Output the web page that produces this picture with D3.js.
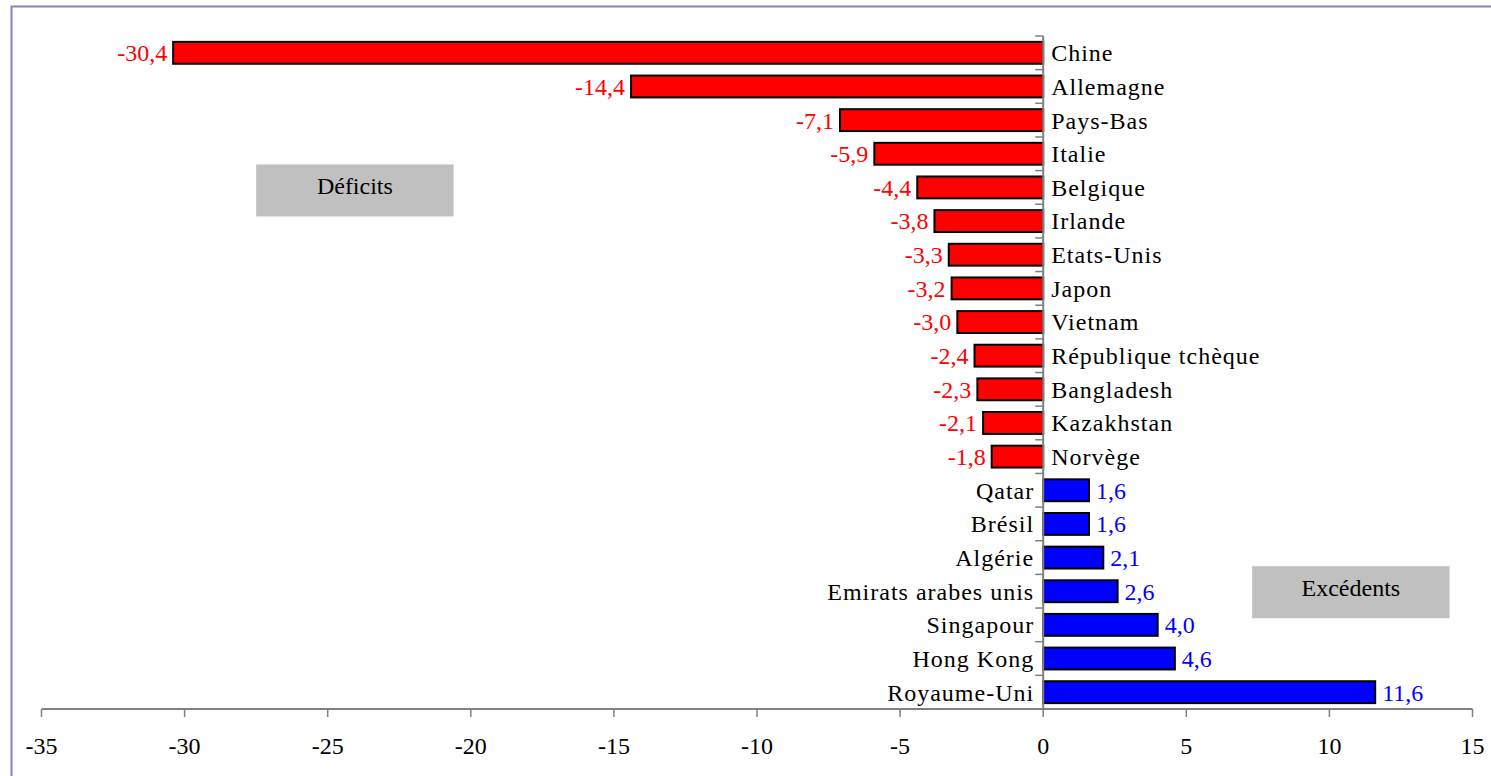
<!DOCTYPE html>
<html>
<head>
  <meta charset="utf-8">
  <script src="https://cdn.jsdelivr.net/npm/d3@7/dist/d3.min.js"></script>
  <style>
    body { margin: 0; background: #fff; }
  </style>
</head>
<body>
<div id="viz"></div>
<script>
// pays, du plus gros déficit au plus gros excédent
var countries = ["Chine", "Allemagne", "Pays-Bas", "Italie", "Belgique", "Irlande",
  "Etats-Unis", "Japon", "Vietnam", "République tchèque", "Bangladesh", "Kazakhstan",
  "Norvège", "Qatar", "Brésil", "Algérie", "Emirats arabes unis", "Singapour",
  "Hong Kong", "Royaume-Uni"];
var values = [-30.4, -14.4, -7.1, -5.9, -4.4, -3.8, -3.3, -3.2, -3.0, -2.4, -2.3, -2.1,
  -1.8, 1.6, 1.6, 2.1, 2.6, 4.0, 4.6, 11.6];
var xTicks = [-35, -30, -25, -20, -15, -10, -5, 0, 5, 10, 15];
var boxLabels = ["Déficits", "Excédents"];

var W = 1491, H = 776;
var fs = 24;
var serif = "'Liberation Serif', 'DejaVu Serif', serif";

var svg = d3.select("#viz").append("svg")
  .attr("width", W)
  .attr("height", H)
  .attr("font-family", serif);

// cadre
svg.append("rect")
  .attr("x", 11.5).attr("y", 6.5)
  .attr("width", W + 20).attr("height", H + 20)
  .attr("fill", "none")
  .attr("stroke", "#8484bc")
  .attr("stroke-width", 2);

var x = d3.scaleLinear().domain([-35, 15]).range([41.5, 1472.5]);
var y = d3.scaleBand().domain(countries).range([36, 709])
  .paddingInner(0.35).paddingOuter(0.175);
var step = y.step();
var data = countries.map(function(c, i) { return { name: c, v: values[i] }; });
var fmt = function(v) { return d3.format(".1f")(v).replace("−", "-").replace(".", ","); };

// axe horizontal
svg.append("line")
  .attr("x1", x(-35)).attr("x2", x(15))
  .attr("y1", 709).attr("y2", 709)
  .attr("stroke", "#808080").attr("stroke-width", 2);
svg.selectAll(".xtick").data(xTicks).enter().append("line")
  .attr("x1", function(d) { return x(d); }).attr("x2", function(d) { return x(d); })
  .attr("y1", 709).attr("y2", 717)
  .attr("stroke", "#808080").attr("stroke-width", 1.5);
svg.selectAll(".xlab").data(xTicks).enter().append("text")
  .attr("x", function(d) { return x(d); })
  .attr("y", 754)
  .attr("text-anchor", "middle")
  .attr("font-family", serif)
  .attr("font-size", fs)
  .text(function(d) { return String(d); });

// barres
svg.selectAll(".bar").data(data).enter().append("rect")
  .attr("x", function(d) { return x(Math.min(0, d.v)); })
  .attr("y", function(d) { return y(d.name); })
  .attr("width", function(d) { return Math.abs(x(d.v) - x(0)); })
  .attr("height", y.bandwidth())
  .attr("fill", function(d) { return d.v < 0 ? "#ff0000" : "#0000ff"; })
  .attr("stroke", "#000")
  .attr("stroke-width", 2);

// axe vertical
svg.append("line")
  .attr("x1", x(0)).attr("x2", x(0))
  .attr("y1", 36).attr("y2", 709)
  .attr("stroke", "#808080").attr("stroke-width", 2);
svg.selectAll(".ytick").data(d3.range(countries.length + 1)).enter().append("line")
  .attr("x1", x(0) - 8).attr("x2", x(0))
  .attr("y1", function(i) { return 36 + i * step; })
  .attr("y2", function(i) { return 36 + i * step; })
  .attr("stroke", "#808080").attr("stroke-width", 1.5);

// noms des pays
svg.selectAll(".name").data(data).enter().append("text")
  .attr("x", function(d) { return d.v < 0 ? x(0) + 8 : x(0) - 9; })
  .attr("y", function(d) { return y(d.name) + y.bandwidth() / 2; })
  .attr("dy", "0.35em")
  .attr("text-anchor", function(d) { return d.v < 0 ? "start" : "end"; })
  .attr("font-family", serif)
  .attr("font-size", fs)
  .attr("letter-spacing", 1)
  .attr("fill", "#000")
  .text(function(d) { return d.name; });

// valeurs
svg.selectAll(".val").data(data).enter().append("text")
  .attr("x", function(d) { return d.v < 0 ? x(d.v) - 6 : x(d.v) + 7; })
  .attr("y", function(d) { return y(d.name) + y.bandwidth() / 2; })
  .attr("dy", "0.35em")
  .attr("text-anchor", function(d) { return d.v < 0 ? "end" : "start"; })
  .attr("font-family", serif)
  .attr("font-size", fs)
  .attr("fill", function(d) { return d.v < 0 ? "#ff0000" : "#0000ff"; })
  .text(function(d) { return fmt(d.v); });

// encadrés
var boxes = [
  { label: boxLabels[0], x0: -27.5, x1: -20.6, row: 4, dy: 3, ty: -1 },
  { label: boxLabels[1], x0: 7.3, x1: 14.2, row: 16, dy: 1, ty: -1 }
];
var bh = 52;
boxes.forEach(function(b) {
  var cy = y(countries[b.row]) + y.bandwidth() / 2 + b.dy;
  var g = svg.append("g");
  g.append("rect")
    .attr("x", x(b.x0)).attr("y", cy - bh / 2)
    .attr("width", x(b.x1) - x(b.x0)).attr("height", bh)
    .attr("fill", "#c0c0c0");
  g.append("text")
    .attr("x", (x(b.x0) + x(b.x1)) / 2)
    .attr("y", cy + b.ty - 4)
    .attr("dy", "0.35em")
    .attr("text-anchor", "middle")
    .attr("font-family", serif)
    .attr("font-size", fs)
    .text(b.label);
});
</script>
</body>
</html>
